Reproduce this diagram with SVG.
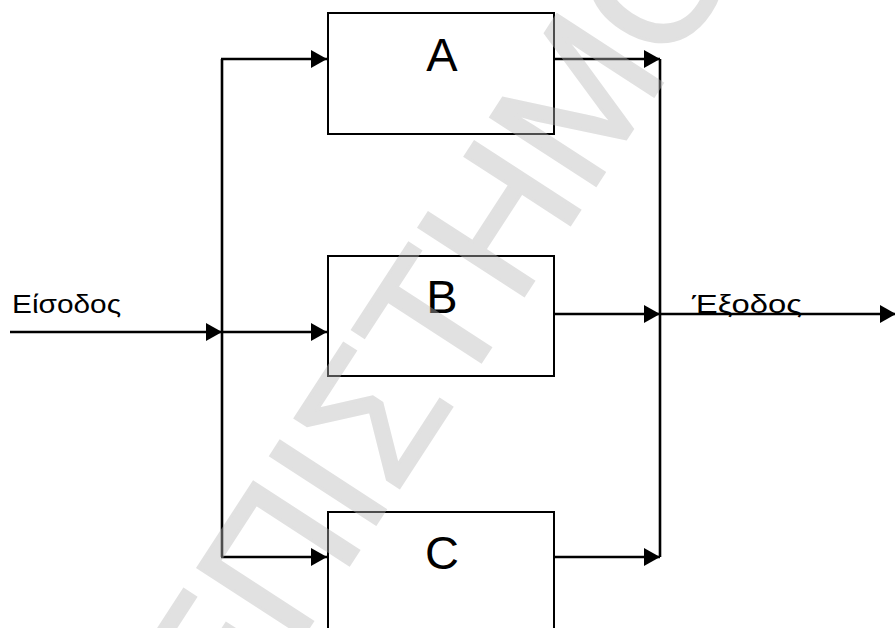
<svg xmlns="http://www.w3.org/2000/svg" width="895" height="628" viewBox="0 0 895 628">
  <style>
    .box { fill: #ffffff; stroke: #000000; stroke-width: 2; }
    .lbl { font-family: "Liberation Sans", Arial, sans-serif; fill: #000000; }
    .big { font-size: 47px; text-anchor: middle; }
    .io { font-size: 26.5px; }
    .conn { stroke: #000000; stroke-width: 2.6; fill: none; }
    .wm { font-family: "Liberation Sans", Arial, sans-serif; font-size: 182px; fill: #b8b8b8; stroke: #b8b8b8; stroke-width: 3; stroke-linejoin: miter; }
  </style>
  <defs>
    <marker id="arr" markerUnits="userSpaceOnUse" markerWidth="18" markerHeight="18" viewBox="0 0 16 18" refX="16" refY="9" orient="auto">
      <path d="M0,0 L16,9 L0,18 Z" fill="#000000"/>
    </marker>
  </defs>
  <rect width="895" height="628" fill="#ffffff"/>

  <g id="connectors">
    <line class="conn" x1="10" y1="332" x2="222" y2="332" marker-end="url(#arr)"/>
    <line class="conn" x1="222" y1="59" x2="222" y2="557"/>
    <line class="conn" x1="221" y1="59" x2="327" y2="59" marker-end="url(#arr)"/>
    <line class="conn" x1="222" y1="332" x2="327" y2="332" marker-end="url(#arr)"/>
    <line class="conn" x1="221" y1="557" x2="327" y2="557" marker-end="url(#arr)"/>
    <line class="conn" x1="555" y1="59" x2="660" y2="59" marker-end="url(#arr)"/>
    <line class="conn" x1="555" y1="314" x2="660" y2="314" marker-end="url(#arr)"/>
    <line class="conn" x1="555" y1="557" x2="660" y2="557" marker-end="url(#arr)"/>
    <line class="conn" x1="660" y1="59" x2="660" y2="557"/>
    <line class="conn" x1="660" y1="314" x2="896" y2="314" marker-end="url(#arr)"/>
  </g>

  <g id="input-label">
    <text class="lbl io" x="12" y="313" textLength="109" lengthAdjust="spacingAndGlyphs">Είσοδος</text>
  </g>
  <g id="output-label">
    <text class="lbl io" x="692" y="313" textLength="110" lengthAdjust="spacingAndGlyphs">Έξοδος</text>
  </g>

  <g id="nodeA">
    <rect class="box" x="328" y="13" width="226" height="121"/>
    <text class="lbl big" x="442" y="71">A</text>
  </g>
  <g id="nodeB">
    <rect class="box" x="328" y="256" width="226" height="120"/>
    <text class="lbl big" x="442" y="313">B</text>
  </g>
  <g id="nodeC">
    <rect class="box" x="328" y="512" width="226" height="140"/>
    <text class="lbl big" x="442" y="569">C</text>
  </g>

  <g id="watermark" opacity="0.42">
    <text class="wm" transform="translate(229,750) rotate(-57)" x="0" y="0">ΕΠΙΣΤΗΜΟ</text>
  </g>
</svg>
